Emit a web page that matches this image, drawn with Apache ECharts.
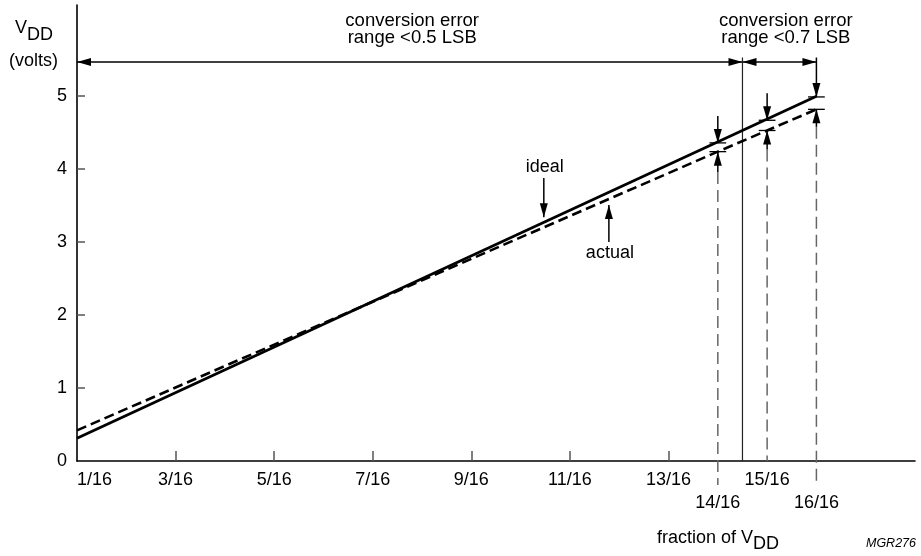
<!DOCTYPE html>
<html><head><meta charset="utf-8">
<script src="https://cdn.jsdelivr.net/npm/echarts@6/dist/echarts.min.js"></script>
<style>html,body{margin:0;padding:0;background:#fff}#c{width:921px;height:556px}</style>
</head><body><div id="c"></div>
<script>
// ---- data ----
const xTickValues = [1, 3, 5, 7, 9, 11, 13, 14, 15, 16];
const xTickLabels = ['1/16', '3/16', '5/16', '7/16', '9/16', '11/16', '13/16', '14/16', '15/16', '16/16'];
const xLowLabels = [14, 16];              // labels drawn on the second row
const xMinorTicks = [3, 5, 7, 9, 11, 13];
const yTickValues = [0, 1, 2, 3, 4, 5];
const yTickMarks = [1, 2, 3, 4, 5];

const idealX = [1, 16];
const idealV = [0.3125, 5.0];
const actualX = [1, 14, 15, 16];
const actualV = [0.42, 4.24, 4.53, 4.82];

const errorX = [14, 15, 16];
const errorIdealV = [4.36, 4.67, 4.99];
const errorActualV = [4.24, 4.53, 4.82];
const errorDownStartV = [4.73, 5.04, 5.53];
const errorUpStartV = [3.96, 4.27, 4.58];
const errorDashEndV = [-0.33, 0, -0.33];

const rangeBoundX = [1, 14.5, 16];
const rangeArrowV = 5.47;
const rangeDividerTopV = 5.53;
const rangeLabels = ['conversion error\nrange <0.5 LSB', 'conversion error\nrange <0.7 LSB'];
const rangeLabelX = [7.8, 15.38];

const idealPointer = { x: 10.47, from: 3.88, to: 3.34, text: 'ideal' };
const actualPointer = { x: 11.79, from: 3.0, to: 3.51, text: 'actual' };

const FONT = "'Liberation Sans', Arial, Helvetica, sans-serif";

const chart = echarts.init(document.getElementById('c'), null, { renderer: 'canvas' });

function line(p1, p2, opt) {
  return { type: 'line', shape: { x1: p1[0], y1: p1[1], x2: p2[0], y2: p2[1] },
    style: Object.assign({ stroke: '#000', lineWidth: 1.5 }, opt || {}) };
}
function head(tip, from, len, hw) {
  const dx = tip[0] - from[0], dy = tip[1] - from[1];
  const L = Math.hypot(dx, dy) || 1;
  const ux = dx / L, uy = dy / L;
  const bx = tip[0] - ux * len, by = tip[1] - uy * len;
  return { type: 'polygon', shape: { points: [tip, [bx - uy * hw, by + ux * hw], [bx + uy * hw, by - ux * hw]] },
    style: { fill: '#000' } };
}
function arrow(p1, p2, both, lw) {
  return [line(p1, p2, { lineWidth: lw || 1.5 }), head(p2, p1, 14, 4)].concat(both ? [head(p1, p2, 14, 4)] : []);
}

function renderAnnotations(params, api) {
  const c = (x, v) => api.coord([x, v]);
  const children = [];
  // range arrows
  children.push(...arrow(c(rangeBoundX[0], rangeArrowV), c(rangeBoundX[1], rangeArrowV), true));
  children.push(...arrow(c(rangeBoundX[1], rangeArrowV), c(rangeBoundX[2], rangeArrowV), true));
  // divider
  children.push(line(c(rangeBoundX[1], rangeDividerTopV), c(rangeBoundX[1], 0), { lineWidth: 1.2, stroke: '#222' }));
  // error indicators
  errorX.forEach((x, i) => {
    children.push(line(c(x, errorUpStartV[i]), c(x, errorDashEndV[i]), { lineWidth: 1.5, stroke: '#666', lineDash: [12, 6] }));
    children.push(...arrow(c(x, errorDownStartV[i]), c(x, errorIdealV[i])));
    children.push(...arrow(c(x, errorUpStartV[i]), c(x, errorActualV[i])));
    children.push(line(c(x - 0.17, errorIdealV[i]), c(x + 0.17, errorIdealV[i]), { lineWidth: 1.3 }));
    children.push(line(c(x - 0.17, errorActualV[i]), c(x + 0.17, errorActualV[i]), { lineWidth: 1.3 }));
  });
  // pointers
  [idealPointer, actualPointer].forEach(p => {
    children.push(...arrow(c(p.x, p.from), c(p.x, p.to)));
  });
  const a = c(idealPointer.x, idealPointer.from);
  children.push({ type: 'text', style: { text: idealPointer.text, x: a[0] + 1, y: a[1] - 11, align: 'center', verticalAlign: 'middle', font: '18px ' + FONT, fill: '#000' } });
  const b = c(actualPointer.x, actualPointer.from);
  children.push({ type: 'text', style: { text: actualPointer.text, x: b[0] + 1, y: b[1] + 11, align: 'center', verticalAlign: 'middle', font: '18px ' + FONT, fill: '#000' } });
  // range labels
  rangeLabels.forEach((t, i) => {
    const m = c(rangeLabelX[i], rangeArrowV);
    children.push({ type: 'text', style: { text: t, x: m[0], y: 29.5, align: 'center', verticalAlign: 'middle', font: '18.5px ' + FONT, lineHeight: 16.5, fill: '#000' } });
  });
  return { type: 'group', children };
}

chart.setOption({
  animation: false,
  backgroundColor: '#fff',
  grid: { left: 77, right: 6, top: 5, bottom: 95 },
  xAxis: {
    type: 'value', min: 1, max: 18,
    axisLine: { lineStyle: { color: '#000', width: 1.6 } },
    axisTick: { show: true, inside: true, length: 10, customValues: xMinorTicks, lineStyle: { color: '#555', width: 1.5 } },
    axisLabel: {
      customValues: xTickValues, margin: 8, fontSize: 18, fontFamily: FONT, color: '#000', lineHeight: 22.5,
      alignMinLabel: 'left',
      formatter: v => { const i = xTickValues.indexOf(v); const t = xTickLabels[i]; return xLowLabels.includes(v) ? '\n' + t : t; }
    },
    splitLine: { show: false }
  },
  yAxis: {
    type: 'value', min: 0, max: 6.25,
    axisLine: { show: true, lineStyle: { color: '#000', width: 1.6 } },
    axisTick: { show: true, inside: true, length: 8, customValues: yTickMarks, lineStyle: { color: '#555', width: 1.5 } },
    axisLabel: { customValues: yTickValues, margin: 10, fontSize: 18, fontFamily: FONT, color: '#000' },
    splitLine: { show: false }
  },
  graphic: [
    { type: 'text', left: 15, top: 19, style: { text: 'V', font: '18px ' + FONT, fill: '#000' } },
    { type: 'text', left: 27, top: 26, style: { text: 'DD', font: '18px ' + FONT, fill: '#000' } },
    { type: 'text', left: 9, top: 52, style: { text: '(volts)', font: '18px ' + FONT, fill: '#000' } },
    { type: 'text', x: 753, y: 529, style: { text: 'fraction of V', font: '18px ' + FONT, fill: '#000', align: 'right', verticalAlign: 'top' } },
    { type: 'text', x: 753, y: 535, style: { text: 'DD', font: '18px ' + FONT, fill: '#000', align: 'left', verticalAlign: 'top' } },
    { type: 'text', x: 916, y: 537, style: { text: 'MGR276', font: 'italic 12.5px ' + FONT, fill: '#000', align: 'right', verticalAlign: 'top' } }
  ],
  series: [
    { name: 'ideal', type: 'line', data: idealX.map((x, i) => [x, idealV[i]]), symbol: 'none',
      lineStyle: { color: '#000', width: 2.8 }, clip: false },
    { name: 'actual', type: 'line', data: actualX.map((x, i) => [x, actualV[i]]), symbol: 'none',
      lineStyle: { color: '#000', width: 2.6, type: [10, 5] }, clip: false },
    { name: 'annotations', type: 'custom', data: [[0, 0]], renderItem: renderAnnotations, clip: false, silent: true }
  ]
});
</script></body></html>
